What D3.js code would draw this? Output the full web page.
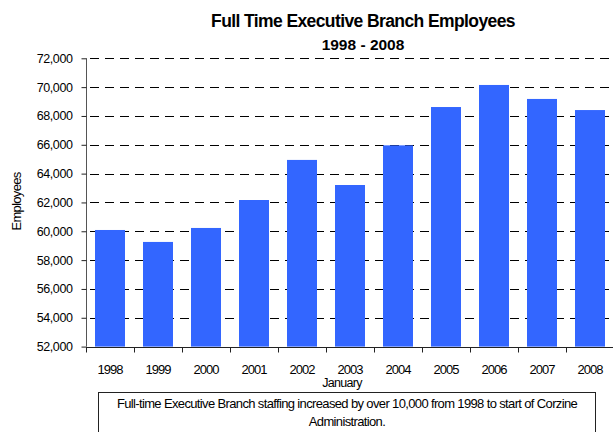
<!DOCTYPE html>
<html>
<head>
<meta charset="utf-8">
<script src="https://cdn.jsdelivr.net/npm/d3@7"></script>
<style>
  html, body { margin: 0; padding: 0; background: #fff; }
  svg { display: block; font-family: "Liberation Sans", Arial, sans-serif; }
</style>
</head>
<body>
<svg id="chart" width="613" height="432"></svg>
<script>
// Full-time Executive Branch headcount, January of each year
const years = ["1998", "1999", "2000", "2001", "2002", "2003", "2004", "2005", "2006", "2007", "2008"];
const employees = [60090, 59260, 60230, 62170, 64950, 63210, 65960, 68620, 70150, 69180, 68410];
const yTicks = [52000, 54000, 56000, 58000, 60000, 62000, 64000, 66000, 68000, 70000, 72000];

const titleText = "Full Time Executive Branch Employees";
const subtitleText = "1998 - 2008";
const yAxisTitle = "Employees";
const xAxisTitle = "January";
const noteLines = [
  "Full-time Executive Branch staffing increased by over 10,000 from 1998 to start of Corzine",
  "Administration."
];

const svg = d3.select("#chart");

const plot = { left: 86, right: 614, top: 58.3, bottom: 346.6 };

const x = d3.scaleBand()
  .domain(years)
  .range([plot.left, plot.right])
  .paddingInner(0.375)
  .paddingOuter(0.1875);

const y = d3.scaleLinear()
  .domain([52000, 72000])
  .range([plot.bottom, plot.top]);

// dashed horizontal gridlines
svg.append("g")
  .selectAll("line")
  .data(yTicks.filter(t => t > 52000))
  .join("line")
  .attr("x1", plot.left)
  .attr("x2", plot.right)
  .attr("y1", d => Math.round(y(d)) + 0.5)
  .attr("y2", d => Math.round(y(d)) + 0.5)
  .attr("stroke", "#000")
  .attr("stroke-width", 1)
  .attr("stroke-dasharray", "9,6")
  .attr("stroke-dashoffset", -4);

// bars
svg.append("g")
  .selectAll("rect")
  .data(years.map((yr, i) => ({ yr, v: employees[i] })))
  .join("rect")
  .attr("x", d => x(d.yr))
  .attr("width", x.bandwidth())
  .attr("y", d => y(d.v))
  .attr("height", d => y(52000) - y(d.v))
  .attr("fill", "#3366FF");

// y axis
const yAxis = svg.append("g")
  .attr("transform", `translate(${plot.left + 0.5},0)`)
  .call(d3.axisLeft(y).tickValues(yTicks).tickSize(5).tickPadding(9)
    .tickFormat(d3.format(",")));
yAxis.select(".domain").attr("stroke", "#555").attr("d", `M0,${plot.top}V${plot.bottom}`);
yAxis.selectAll(".tick line").attr("stroke", "#222");
yAxis.selectAll(".tick text")
  .attr("font-size", 12.5)
  .attr("letter-spacing", "-0.4px")
  .attr("font-family", "Liberation Sans, Arial, sans-serif")
  .attr("fill", "#000");

// x axis: baseline, category-boundary ticks, labels
const xAxis = svg.append("g")
  .attr("transform", `translate(0,${Math.round(plot.bottom) + 0.5})`);
xAxis.append("line")
  .attr("x1", plot.left).attr("x2", plot.right)
  .attr("stroke", "#222");
const boundaries = d3.range(years.length + 1).map(i => plot.left + i * x.step());
xAxis.selectAll(".bt")
  .data(boundaries)
  .join("line")
  .attr("class", "bt")
  .attr("x1", d => Math.round(d) + 0.5).attr("x2", d => Math.round(d) + 0.5)
  .attr("y1", 0).attr("y2", 5)
  .attr("stroke", "#222");
xAxis.selectAll(".lbl")
  .data(years)
  .join("text")
  .attr("class", "lbl")
  .attr("x", d => x(d) + x.bandwidth() / 2)
  .attr("y", 26)
  .attr("text-anchor", "middle")
  .attr("font-size", 13)
  .attr("letter-spacing", "-1px")
  .text(d => d);

// axis titles
svg.append("text")
  .attr("transform", "translate(21,201.5) rotate(-90)")
  .attr("text-anchor", "middle")
  .attr("font-size", 13)
  .attr("letter-spacing", "-0.7px")
  .text(yAxisTitle);

svg.append("text")
  .attr("x", 342)
  .attr("y", 387)
  .attr("text-anchor", "middle")
  .attr("font-size", 12.5)
  .attr("letter-spacing", "-0.7px")
  .text(xAxisTitle);

// titles
svg.append("text")
  .attr("x", 363)
  .attr("y", 27)
  .attr("text-anchor", "middle")
  .attr("font-size", 17.5)
  .attr("font-weight", "bold")
  .attr("letter-spacing", "-0.6px")
  .text(titleText);

svg.append("text")
  .attr("x", 363)
  .attr("y", 50)
  .attr("text-anchor", "middle")
  .attr("font-size", 15.5)
  .attr("font-weight", "bold")
  .attr("letter-spacing", "0px")
  .text(subtitleText);

// note box
const note = svg.append("g");
note.append("rect")
  .attr("x", 98.5)
  .attr("y", 392.5)
  .attr("width", 497)
  .attr("height", 60)
  .attr("fill", "#fff")
  .attr("stroke", "#222");
note.selectAll("text")
  .data(noteLines)
  .join("text")
  .attr("x", 347)
  .attr("y", (d, i) => 407.5 + i * 18.5)
  .attr("text-anchor", "middle")
  .attr("font-size", 13)
  .attr("letter-spacing", "-0.64px")
  .text(d => d);
</script>
</body>
</html>
